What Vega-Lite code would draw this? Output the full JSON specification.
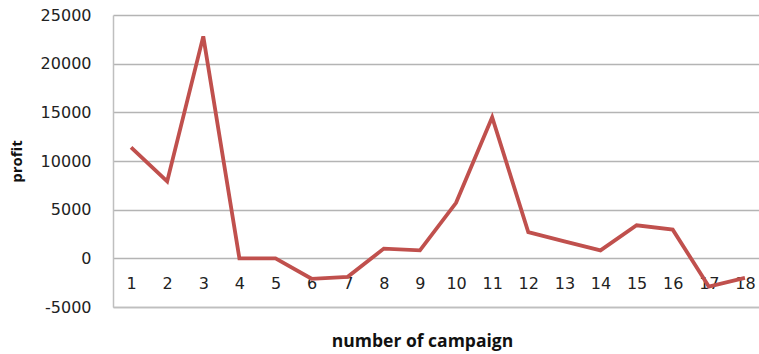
{
  "$schema": "https://vega.github.io/schema/vega-lite/v6.json",
  "width": 650,
  "height": 292,
  "autosize": {"type": "none"},
  "padding": {"left": 113, "top": 15, "right": 0, "bottom": 47},
  "background": "white",
  "config": {
    "view": {"stroke": null},
    "axis": {"labelFont": "DejaVu Sans", "titleFont": "Open Sans", "labelColor": "#222222", "titleColor": "#111111"}
  },
  "data": {
    "values": [
      {"campaign": 1, "profit": 11400},
      {"campaign": 2, "profit": 7900},
      {"campaign": 3, "profit": 22800},
      {"campaign": 4, "profit": 0},
      {"campaign": 5, "profit": 0},
      {"campaign": 6, "profit": -2100},
      {"campaign": 7, "profit": -1900},
      {"campaign": 8, "profit": 1000},
      {"campaign": 9, "profit": 820},
      {"campaign": 10, "profit": 5700},
      {"campaign": 11, "profit": 14500},
      {"campaign": 12, "profit": 2700},
      {"campaign": 13, "profit": 1750},
      {"campaign": 14, "profit": 820},
      {"campaign": 15, "profit": 3400},
      {"campaign": 16, "profit": 2950},
      {"campaign": 17, "profit": -2900},
      {"campaign": 18, "profit": -2000}
    ]
  },
  "mark": {"type": "line", "color": "#C0504D", "strokeWidth": 3.8, "strokeJoin": "miter"},
  "encoding": {
    "x": {
      "field": "campaign",
      "type": "ordinal",
      "sort": null,
      "scale": {"type": "point", "padding": 0.5},
      "axis": {
        "title": "number of campaign",
        "titleFontSize": 17.5,
        "titleFontWeight": "bold",
        "titlePadding": 25,
        "titleX": 309,
        "labelAngle": 0,
        "labelFontSize": 16,
        "labelBaseline": "middle",
        "labelPadding": -24,
        "ticks": false,
        "domain": true,
        "domainColor": "#bfbfbf",
        "domainWidth": 1.5,
        "grid": false
      }
    },
    "y": {
      "field": "profit",
      "type": "quantitative",
      "scale": {"domain": [-5000, 25000], "nice": false, "zero": false},
      "axis": {
        "title": "profit",
        "titleFontSize": 15,
        "titleFontWeight": "bold",
        "titlePadding": 16,
        "values": [-5000, 0, 5000, 10000, 15000, 20000, 25000],
        "labelExpr": "'' + datum.value",
        "labelFontSize": 16,
        "labelPadding": 22,
        "ticks": false,
        "domain": true,
        "domainColor": "#bfbfbf",
        "domainWidth": 1.5,
        "grid": true,
        "gridColor": "#b4b4b4",
        "gridWidth": 1.3
      }
    }
  }
}
